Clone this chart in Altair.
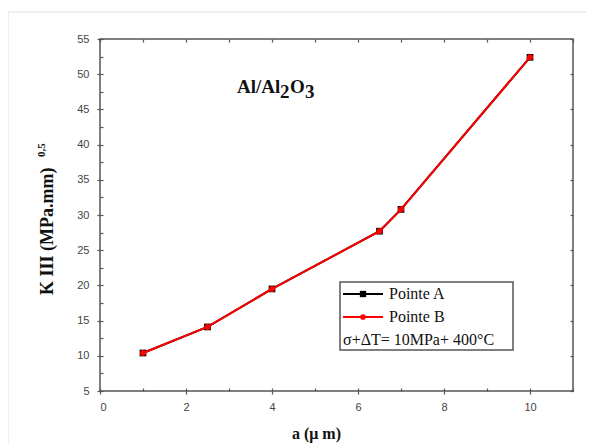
import altair as alt
import pandas as pd

# ---- data ----
a_vals = [1, 2.5, 4, 6.5, 7, 10]
pointe_a = [10.4, 14.1, 19.5, 27.7, 30.8, 52.4]
pointe_b = [10.4, 14.1, 19.5, 27.7, 30.8, 52.4]

x_major = [0, 2, 4, 6, 8, 10]
x_all = list(range(0, 12))
y_major = [5, 10, 15, 20, 25, 30, 35, 40, 45, 50, 55]
y_all = [5 + 2.5 * i for i in range(21)]

legend_labels = ["Pointe A", "Pointe B", "σ+ΔT= 10MPa+ 400°C"]
title_parts = ["Al/Al", "2", "O", "3"]
y_title = "K  III  (MPa.mm)"
y_title_sup = "0,5"
x_title = "a  (μ m)"

W, H = 473, 352
SERIF = "Liberation Serif"
SANS = "Liberation Sans"
AX = "#555555"

df_a = pd.DataFrame({"a": a_vals, "K": pointe_a})
df_b = pd.DataFrame({"a": a_vals, "K": pointe_b})
one = pd.DataFrame({"k": [0]})

xs = alt.Scale(domain=[0, 11], nice=False, zero=False)
ys = alt.Scale(domain=[5, 55], nice=False, zero=False)

common = dict(domain=False, grid=False, tickColor=AX, tickWidth=1.2)

ax_x_main = alt.Axis(orient="bottom", values=x_major, tickSize=3, labelPadding=7,
                     labelFont=SANS, labelFontSize=11, labelColor="#444444", format="d",
                     title=x_title, titleFont=SERIF, titleFontSize=16, titleFontWeight="bold",
                     titleColor="#111111", titleX=216, titleY=47, titleBaseline="alphabetic",
                     **common)
ax_y_main = alt.Axis(orient="left", values=y_major, tickSize=3, labelPadding=8,
                     labelFont=SANS, labelFontSize=11, labelColor="#444444", format="d",
                     title=None, **common)
ax_x_in_bottom = alt.Axis(orient="top", offset=-H, values=x_all, tickSize=3,
                          labels=False, title=None, **common)
ax_y_in_left = alt.Axis(orient="right", offset=-W, values=y_all, tickSize=3,
                        labels=False, title=None, **common)
ax_x_in_top = alt.Axis(orient="bottom", offset=-H, values=x_all, tickSize=3,
                       labels=False, title=None, **common)
ax_y_in_right = alt.Axis(orient="left", offset=-W, values=y_major, tickSize=3,
                         labels=False, title=None, **common)

line_a = alt.Chart(df_a).mark_line(color="black", strokeWidth=2).encode(
    x=alt.X("a:Q", scale=xs, axis=ax_x_main),
    y=alt.Y("K:Q", scale=ys, axis=ax_y_main),
)
pts_a = alt.Chart(df_a).mark_point(shape="square", filled=True, color="black", size=45, opacity=1).encode(
    x=alt.X("a:Q", scale=xs, axis=ax_x_in_bottom),
    y=alt.Y("K:Q", scale=ys, axis=ax_y_in_left),
)
line_b = alt.Chart(df_b).mark_line(color="#ff0000", strokeWidth=2).encode(
    x=alt.X("a:Q", scale=xs, axis=ax_x_in_top),
    y=alt.Y("K:Q", scale=ys, axis=ax_y_in_right),
)
pts_b = alt.Chart(df_b).mark_point(shape="circle", filled=True, color="#ff0000", size=36, opacity=1).encode(
    x=alt.X("a:Q", scale=xs, axis=None),
    y=alt.Y("K:Q", scale=ys, axis=None),
)

# outer light frame of the figure
frame = alt.Chart(one).mark_rect(fill=None, stroke="#dddddd", strokeWidth=1, clip=False).encode(
    x=alt.value(-92), x2=alt.value(620), y=alt.value(-27), y2=alt.value(500)
)

# annotation title Al/Al2O3
tfs = 19
title_layers = []
for txt, dx, dy in zip(title_parts, [0, 43, 53, 68], [0, 5, 0, 5]):
    title_layers.append(
        alt.Chart(one).mark_text(align="left", baseline="alphabetic", font=SERIF, fontSize=tfs,
                                 fontWeight="bold", color="#111111", dx=dx, dy=dy).encode(
            x=alt.value(137), y=alt.value(54), text=alt.value(txt))
    )

# y title with superscript
ytitle = alt.Chart(one).mark_text(angle=270, align="left", baseline="alphabetic", font=SERIF,
                                  fontSize=18, fontWeight="bold", color="#111111").encode(
    x=alt.value(-47), y=alt.value(256), text=alt.value(y_title))
ytitle_sup = alt.Chart(one).mark_text(angle=270, align="left", baseline="alphabetic", font=SERIF,
                                      fontSize=11, fontWeight="bold", color="#111111").encode(
    x=alt.value(-55), y=alt.value(118), text=alt.value(y_title_sup))

# legend box
leg_box = alt.Chart(one).mark_rect(fill="white", stroke=AX, strokeWidth=1.5).encode(
    x=alt.value(240), x2=alt.value(413), y=alt.value(243), y2=alt.value(311))
leg_line_a = alt.Chart(one).mark_rule(color="black", strokeWidth=2).encode(
    x=alt.value(243), x2=alt.value(283), y=alt.value(255))
leg_pt_a = alt.Chart(one).mark_point(shape="square", filled=True, color="black", size=40, opacity=1).encode(
    x=alt.value(263), y=alt.value(255))
leg_line_b = alt.Chart(one).mark_rule(color="#ff0000", strokeWidth=2).encode(
    x=alt.value(243), x2=alt.value(283), y=alt.value(278))
leg_pt_b = alt.Chart(one).mark_point(shape="circle", filled=True, color="#ff0000", size=32, opacity=1).encode(
    x=alt.value(263), y=alt.value(278))
leg_texts = []
for lab, lx, ly in zip(legend_labels, [289, 289, 243], [255, 278, 301]):
    leg_texts.append(
        alt.Chart(one).mark_text(align="left", baseline="middle", font=SERIF, fontSize=16,
                                 color="#111111").encode(
            x=alt.value(lx), y=alt.value(ly), text=alt.value(lab))
    )

chart = alt.layer(
    frame, line_a, pts_a, line_b, pts_b,
    *title_layers, ytitle, ytitle_sup,
    leg_box, leg_line_a, leg_pt_a, leg_line_b, leg_pt_b, *leg_texts,
).resolve_axis(x="independent", y="independent").properties(
    width=W, height=H,
    autosize=alt.AutoSizeParams(type="none"),
    padding={"left": 92, "top": 31, "right": 13, "bottom": 52},
    background="white",
).configure_view(stroke=AX, strokeWidth=1.5)

chart.save("out.html", embed_options={"renderer": "svg", "actions": False})
